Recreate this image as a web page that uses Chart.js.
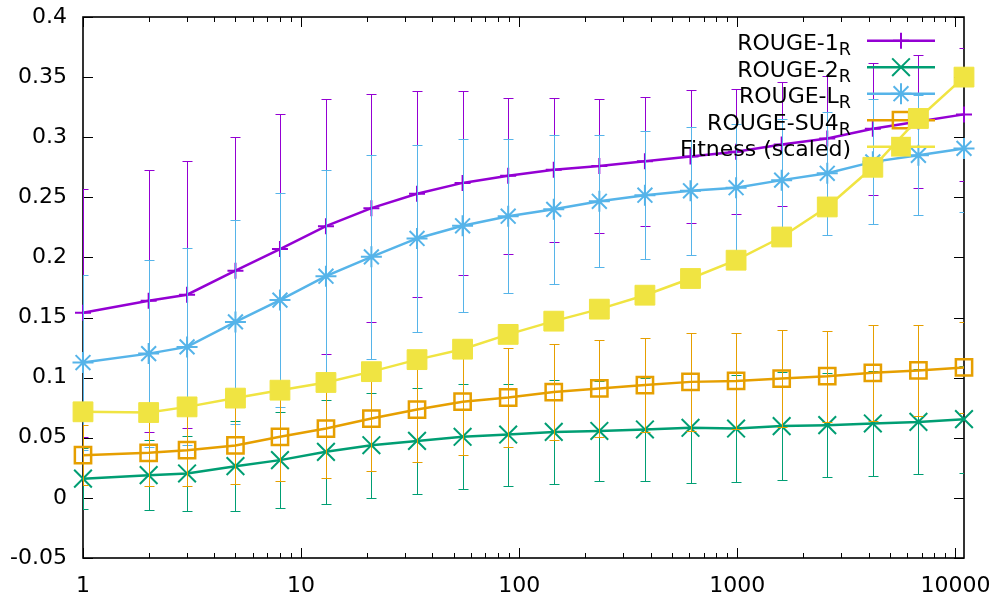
<!DOCTYPE html>
<html><head><meta charset="utf-8">
<script src="https://cdn.jsdelivr.net/npm/chart.js@4.4.0/dist/chart.umd.min.js"></script>
<style>html,body{margin:0;padding:0;background:#fff;}#wrap{width:996px;height:597px;}</style>
</head><body><div id="wrap"><canvas id="c" width="996" height="597"></canvas></div>
<script>
// ---- data ----
const xValues = [1,2,3,5,8,13,21,34,55,89,144,233,377,610,987,1597,2584,4181,6765,10946];
const rouge1 = [0.154,0.164,0.169,0.189,0.207,0.226,0.241,0.253,0.262,0.268,0.273,0.276,0.280,0.284,0.288,0.294,0.299,0.307,0.313,0.319];
const rouge1Err = [0.103,0.109,0.111,0.111,0.112,0.106,0.095,0.0856,0.0766,0.065,0.060,0.056,0.0536,0.055,0.052,0.0516,0.052,0.055,0.055,0.055];
const rouge2 = [0.016,0.0189,0.0203,0.0264,0.0314,0.0383,0.0438,0.0474,0.0508,0.0527,0.0549,0.0557,0.0569,0.0583,0.0577,0.0597,0.0605,0.0619,0.0632,0.0655];
const rouge2Err = [0.0254,0.0291,0.0311,0.0372,0.0397,0.0435,0.0438,0.0438,0.0436,0.0424,0.0435,0.0415,0.0427,0.0458,0.0444,0.045,0.0433,0.044,0.0437,0.0445];
const rougeL = [0.1126,0.120,0.1256,0.1464,0.1645,0.1844,0.2005,0.2158,0.2263,0.2343,0.240,0.2467,0.2518,0.2554,0.258,0.2643,0.270,0.2795,0.285,0.2907];
const rougeLErr = [0.073,0.078,0.082,0.085,0.089,0.088,0.085,0.078,0.072,0.064,0.062,0.055,0.053,0.053,0.053,0.051,0.051,0.052,0.050,0.053];
const rougeSU4 = [0.0355,0.0375,0.0397,0.0436,0.0508,0.0577,0.066,0.0735,0.080,0.0835,0.088,0.091,0.0938,0.0965,0.0973,0.0993,0.1012,0.104,0.106,0.1085];
const rougeSU4Err = [0.025,0.028,0.030,0.032,0.037,0.041,0.044,0.044,0.044,0.041,0.040,0.040,0.039,0.041,0.040,0.040,0.038,0.040,0.038,0.038];
const fitness = [0.0716,0.071,0.0757,0.083,0.0896,0.096,0.105,0.115,0.1237,0.136,0.147,0.157,0.1686,0.1825,0.1977,0.217,0.242,0.275,0.3156,0.350];
const xTickValues = [1,10,100,1000,10000];
const seriesNames = ['ROUGE-1','ROUGE-2','ROUGE-L','ROUGE-SU4','Fitness (scaled)'];
const seriesSubs = ['R','R','R','R',''];

const COLORS = ['#9400d3','#009e73','#56b4e9','#e69f00','#f0e442'];
const FONT = '"DejaVu Sans", sans-serif';

function pts(arr){ return xValues.map((x,i)=>({x:x, y:arr[i]})); }

function drawMarker(ctx, style, x, y, r, color, fill){
  ctx.save();
  ctx.strokeStyle = color; ctx.fillStyle = color; ctx.lineWidth = 2;
  ctx.beginPath();
  const d = r*Math.SQRT1_2;
  if (style==='cross'){ ctx.moveTo(x-r,y); ctx.lineTo(x+r,y); ctx.moveTo(x,y-r); ctx.lineTo(x,y+r); ctx.stroke(); }
  else if (style==='crossRot'){ ctx.moveTo(x-d,y-d); ctx.lineTo(x+d,y+d); ctx.moveTo(x-d,y+d); ctx.lineTo(x+d,y-d); ctx.stroke(); }
  else if (style==='star'){ ctx.moveTo(x-r,y); ctx.lineTo(x+r,y); ctx.moveTo(x,y-r); ctx.lineTo(x,y+r);
    ctx.moveTo(x-d,y-d); ctx.lineTo(x+d,y+d); ctx.moveTo(x-d,y+d); ctx.lineTo(x+d,y-d); ctx.stroke(); }
  else if (style==='rect'){ ctx.rect(x-d,y-d,2*d,2*d); if (fill) ctx.fill(); else { ctx.lineWidth=2.5; ctx.stroke(); } }
  ctx.restore();
}

const markerDefs = [
  {style:'cross', r:8, fill:false},
  {style:'crossRot', r:12.5, fill:false},
  {style:'star', r:10.5, fill:false},
  {style:'rect', r:11.5, fill:false},
  {style:'rect', r:14, fill:true}
];

function drawLegendEntry(ctx, i){
  const rightX = 851, lx1 = 867, lx2 = 935, mx = 901;
  const ly = 40.7 + 26.5*i;
  ctx.save();
  ctx.fillStyle = '#000';
  ctx.textAlign = 'right'; ctx.textBaseline = 'alphabetic';
  let subW = 0;
  if (seriesSubs[i]){
    ctx.font = '17.6px ' + FONT;
    subW = ctx.measureText(seriesSubs[i]).width;
    ctx.fillText(seriesSubs[i], rightX, ly + 14.5);
  }
  ctx.font = '22px ' + FONT;
  ctx.fillText(seriesNames[i], rightX - subW, ly + 9.3);
  ctx.strokeStyle = COLORS[i]; ctx.lineWidth = 2.5;
  ctx.beginPath(); ctx.moveTo(lx1, ly); ctx.lineTo(lx2, ly); ctx.stroke();
  const md = markerDefs[i];
  drawMarker(ctx, md.style, mx, ly, md.r, COLORS[i], md.fill);
  ctx.restore();
}

const errorBarPlugin = {
  id:'errbars',
  beforeDatasetDraw(chart, args){
    const ctx = chart.ctx;
    drawLegendEntry(ctx, args.index);
    const ds = chart.data.datasets[args.index];
    if (!ds.errors) return;
    const xs = chart.scales.x, ys = chart.scales.y, a = chart.chartArea;
    ctx.save();
    ctx.beginPath(); ctx.rect(a.left, a.top, a.right-a.left, a.bottom-a.top); ctx.clip();
    ctx.strokeStyle = ds.borderColor; ctx.lineWidth = 1;
    ds.data.forEach((p,i)=>{
      const x = Math.round(xs.getPixelForValue(p.x))+0.5;
      const y1 = Math.round(ys.getPixelForValue(p.y - ds.errors[i]))+0.5;
      const y2 = Math.round(ys.getPixelForValue(p.y + ds.errors[i]))+0.5;
      ctx.beginPath();
      ctx.moveTo(x,y1); ctx.lineTo(x,y2);
      ctx.moveTo(x-5,y1); ctx.lineTo(x+5,y1);
      ctx.moveTo(x-5,y2); ctx.lineTo(x+5,y2);
      ctx.stroke();
    });
    ctx.restore();
  }
};

const framePlugin = {
  id:'frame',
  beforeDatasetsDraw(chart){
    const ctx = chart.ctx, a = chart.chartArea, xs = chart.scales.x, ys = chart.scales.y;
    ctx.save();
    ctx.strokeStyle = '#000'; ctx.lineWidth = 1;
    ctx.beginPath();
    ys.ticks.forEach(t=>{
      const y = Math.round(ys.getPixelForValue(t.value))+0.5;
      ctx.moveTo(a.left, y); ctx.lineTo(a.left+10, y);
      ctx.moveTo(a.right, y); ctx.lineTo(a.right-10, y);
    });
    for (let dec=1; dec<=10000; dec*=10){
      for (let m=1; m<=9; m++){
        const v = dec*m;
        if (v > xs.max) break;
        const x = Math.round(xs.getPixelForValue(v))+0.5;
        const len = (m===1)?10:5;
        ctx.moveTo(x, a.bottom); ctx.lineTo(x, a.bottom-len);
        ctx.moveTo(x, a.top); ctx.lineTo(x, a.top+len);
      }
    }
    ctx.stroke();
    ctx.lineWidth = 1.6;
    ctx.strokeRect(a.left, a.top, a.right-a.left, a.bottom-a.top);
    ctx.restore();
  }
};

const seriesValues = [rouge1, rouge2, rougeL, rougeSU4, fitness];
const seriesErrors = [rouge1Err, rouge2Err, rougeLErr, rougeSU4Err, null];

const datasets = seriesValues.map((vals,i)=>{
  const md = markerDefs[i];
  return {
    label: seriesNames[i] + seriesSubs[i],
    data: pts(vals),
    errors: seriesErrors[i],
    borderColor: COLORS[i],
    backgroundColor: COLORS[i],
    borderWidth: 2.5,
    tension: 0,
    pointStyle: md.style,
    pointRadius: md.r,
    pointHoverRadius: md.r,
    pointBorderWidth: md.style==='rect' ? (md.fill?1:2.5) : 2,
    pointBorderColor: COLORS[i],
    pointBackgroundColor: md.fill ? COLORS[i] : 'rgba(0,0,0,0)',
    clip: false,
    order: 5 - i
  };
});

Chart.defaults.color = '#000';
Chart.defaults.font.family = FONT;

new Chart(document.getElementById('c'), {
  type: 'line',
  data: { datasets },
  options: {
    responsive: false,
    animation: false,
    devicePixelRatio: 1,
    layout: { padding: { left: 0, right: 32, top: 17, bottom: 0 } },
    plugins: { legend: { display: false }, tooltip: { enabled: false } },
    scales: {
      x: {
        type: 'logarithmic',
        min: 1, max: 10946,
        grid: { display: false, drawTicks: false },
        border: { display: false },
        afterBuildTicks(scale){ scale.ticks = xTickValues.map(v=>({value:v})); },
        afterFit(scale){ scale.height = 39; scale.paddingLeft = 0; scale.paddingRight = 0; },
        ticks: { font: { size: 22, family: FONT }, padding: 15, maxRotation: 0, autoSkip: false,
          callback: (v)=> String(v) }
      },
      y: {
        type: 'linear',
        min: -0.05, max: 0.4,
        grid: { display: false, drawTicks: false },
        border: { display: false },
        afterFit(scale){ scale.width = 83; scale.paddingTop = 0; scale.paddingBottom = 0; },
        ticks: { stepSize: 0.05, font: { size: 22, family: FONT }, padding: 16,
          callback: (v)=> String(parseFloat(Number(v).toFixed(2))) }
      }
    }
  },
  plugins: [framePlugin, errorBarPlugin]
});
</script>
</body></html>
